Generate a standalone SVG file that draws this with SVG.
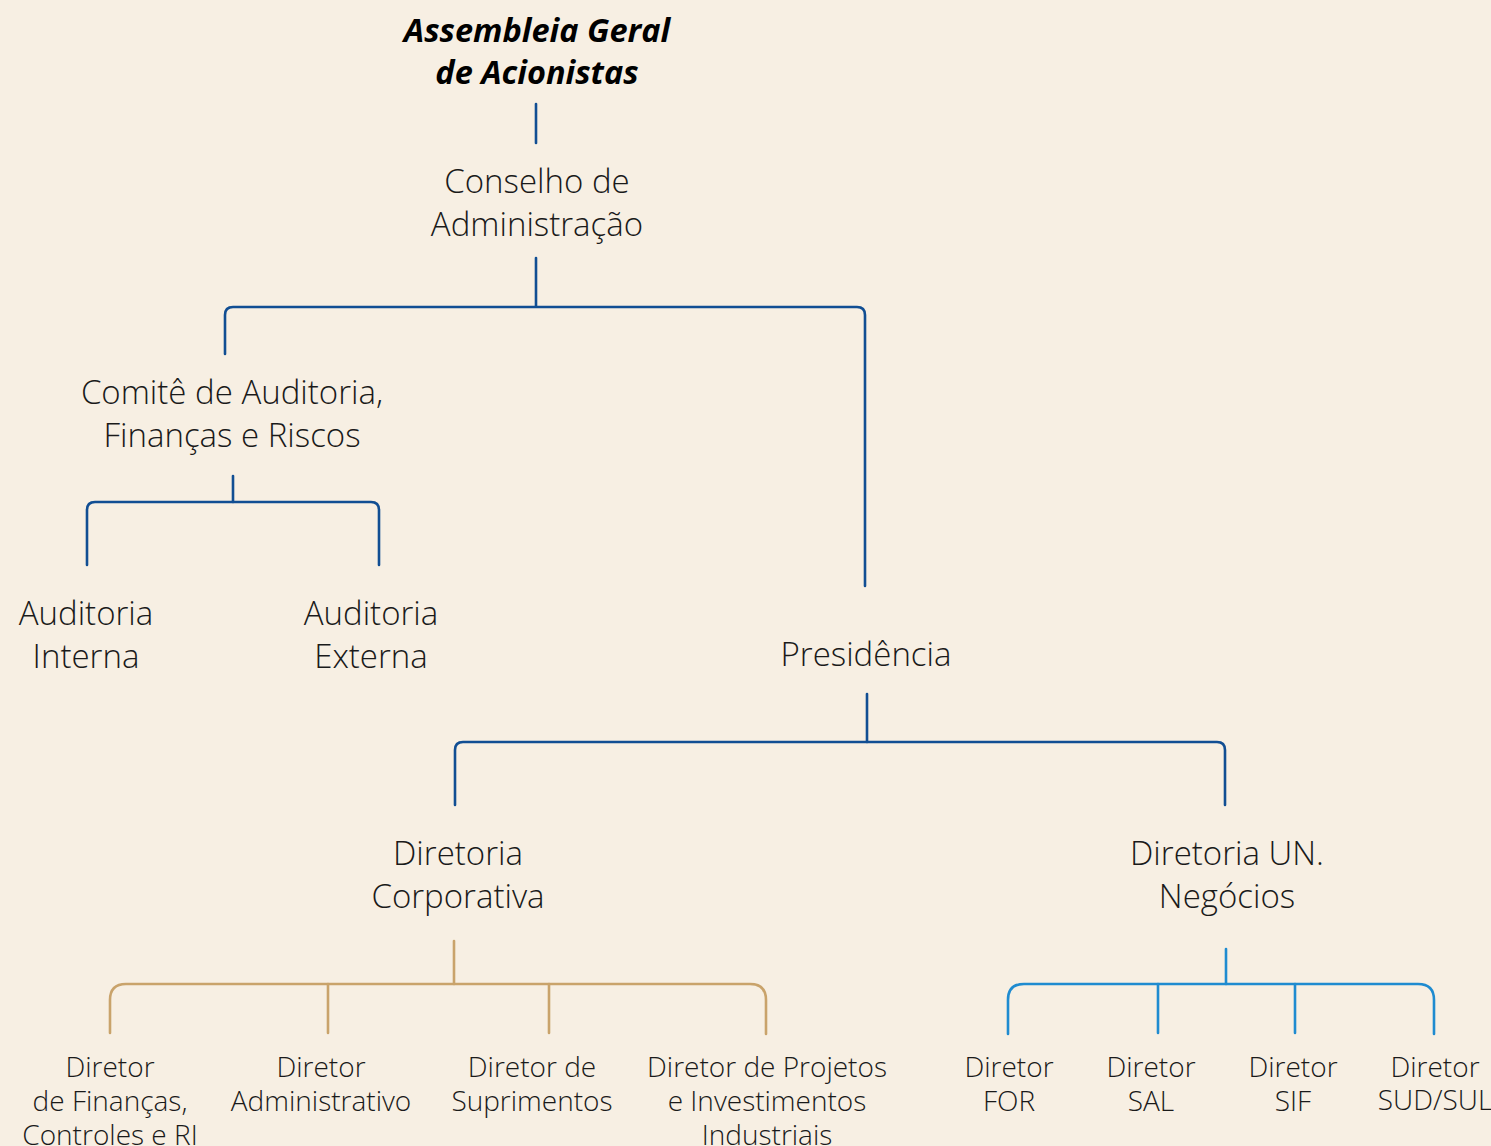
<svg xmlns="http://www.w3.org/2000/svg" width="1491" height="1146" viewBox="0 0 1491 1146">
<style>
.t{font-family:"Open Sans","Noto Sans",sans-serif;font-weight:300;fill:#1a1a1a;text-anchor:middle}
.big{font-size:33px}
.sm{font-size:28px}
.title{font-family:"Open Sans","Noto Sans",sans-serif;font-weight:700;font-style:italic;font-size:32.5px;fill:#000;text-anchor:middle}
.db{fill:none;stroke:#114e93;stroke-width:2.6;stroke-linecap:round}
.tan{fill:none;stroke:#c9a36b;stroke-width:2.6;stroke-linecap:round}
.lb{fill:none;stroke:#1f8bd0;stroke-width:2.6;stroke-linecap:round}
</style>
<rect width="1491" height="1146" fill="#f7efe3"/>
<g id="connectors">
<path class="db" d="M536 104V143"/>
<path class="db" d="M536 258V306"/>
<path class="db" d="M225 354V315Q225 307 233 307H857Q865 307 865 315V586"/>
<path class="db" d="M233 476V502"/>
<path class="db" d="M87 565V510Q87 502 95 502H371Q379 502 379 510V565"/>
<path class="db" d="M867 694V742"/>
<path class="db" d="M455 805V750Q455 742 463 742H1217Q1225 742 1225 750V805"/>
<path class="tan" d="M454 941V984"/>
<path class="tan" d="M110 1033V1000Q110 984 126 984H750Q766 984 766 1000V1034"/>
<path class="tan" d="M328 984V1033M549 984V1033"/>
<path class="lb" d="M1226 949V984"/>
<path class="lb" d="M1008 1034V1000Q1008 984 1024 984H1418Q1434 984 1434 1000V1034"/>
<path class="lb" d="M1158 984V1033M1295 984V1033"/>
</g>
<g id="n-assembleia"><text class="title" x="537" y="42">Assembleia Geral</text><text class="title" x="537" y="84">de Acionistas</text></g>
<g id="n-conselho"><text class="t big" x="537" y="193">Conselho de</text><text class="t big" x="537" y="236">Administração</text></g>
<g id="n-comite"><text class="t big" x="232" y="404">Comitê de Auditoria,</text><text class="t big" x="232" y="447">Finanças e Riscos</text></g>
<g id="n-aud-interna"><text class="t big" x="86" y="625">Auditoria</text><text class="t big" x="86" y="668">Interna</text></g>
<g id="n-aud-externa"><text class="t big" x="371" y="625">Auditoria</text><text class="t big" x="371" y="668">Externa</text></g>
<g id="n-presidencia"><text class="t big" x="866" y="666">Presidência</text></g>
<g id="n-dir-corp"><text class="t big" x="458" y="865">Diretoria</text><text class="t big" x="458" y="908">Corporativa</text></g>
<g id="n-dir-un"><text class="t big" x="1227" y="865">Diretoria UN.</text><text class="t big" x="1227" y="908">Negócios</text></g>
<g id="n-financas"><text class="t sm" x="110" y="1077">Diretor</text><text class="t sm" x="110" y="1111">de Finanças,</text><text class="t sm" x="110" y="1145">Controles e RI</text></g>
<g id="n-adm"><text class="t sm" x="321" y="1077">Diretor</text><text class="t sm" x="321" y="1111">Administrativo</text></g>
<g id="n-supr"><text class="t sm" x="532" y="1077">Diretor de</text><text class="t sm" x="532" y="1111">Suprimentos</text></g>
<g id="n-projetos"><text class="t sm" x="767" y="1077">Diretor de Projetos</text><text class="t sm" x="767" y="1111">e Investimentos</text><text class="t sm" x="767" y="1145">Industriais</text></g>
<g id="n-for"><text class="t sm" x="1009" y="1077">Diretor</text><text class="t sm" x="1009" y="1111">FOR</text></g>
<g id="n-sal"><text class="t sm" x="1151" y="1077">Diretor</text><text class="t sm" x="1151" y="1111">SAL</text></g>
<g id="n-sif"><text class="t sm" x="1293" y="1077">Diretor</text><text class="t sm" x="1293" y="1111">SIF</text></g>
<g id="n-sud"><text class="t sm" x="1435" y="1077">Diretor</text><text class="t sm" x="1435" y="1110">SUD/SUL</text></g>
</svg>
